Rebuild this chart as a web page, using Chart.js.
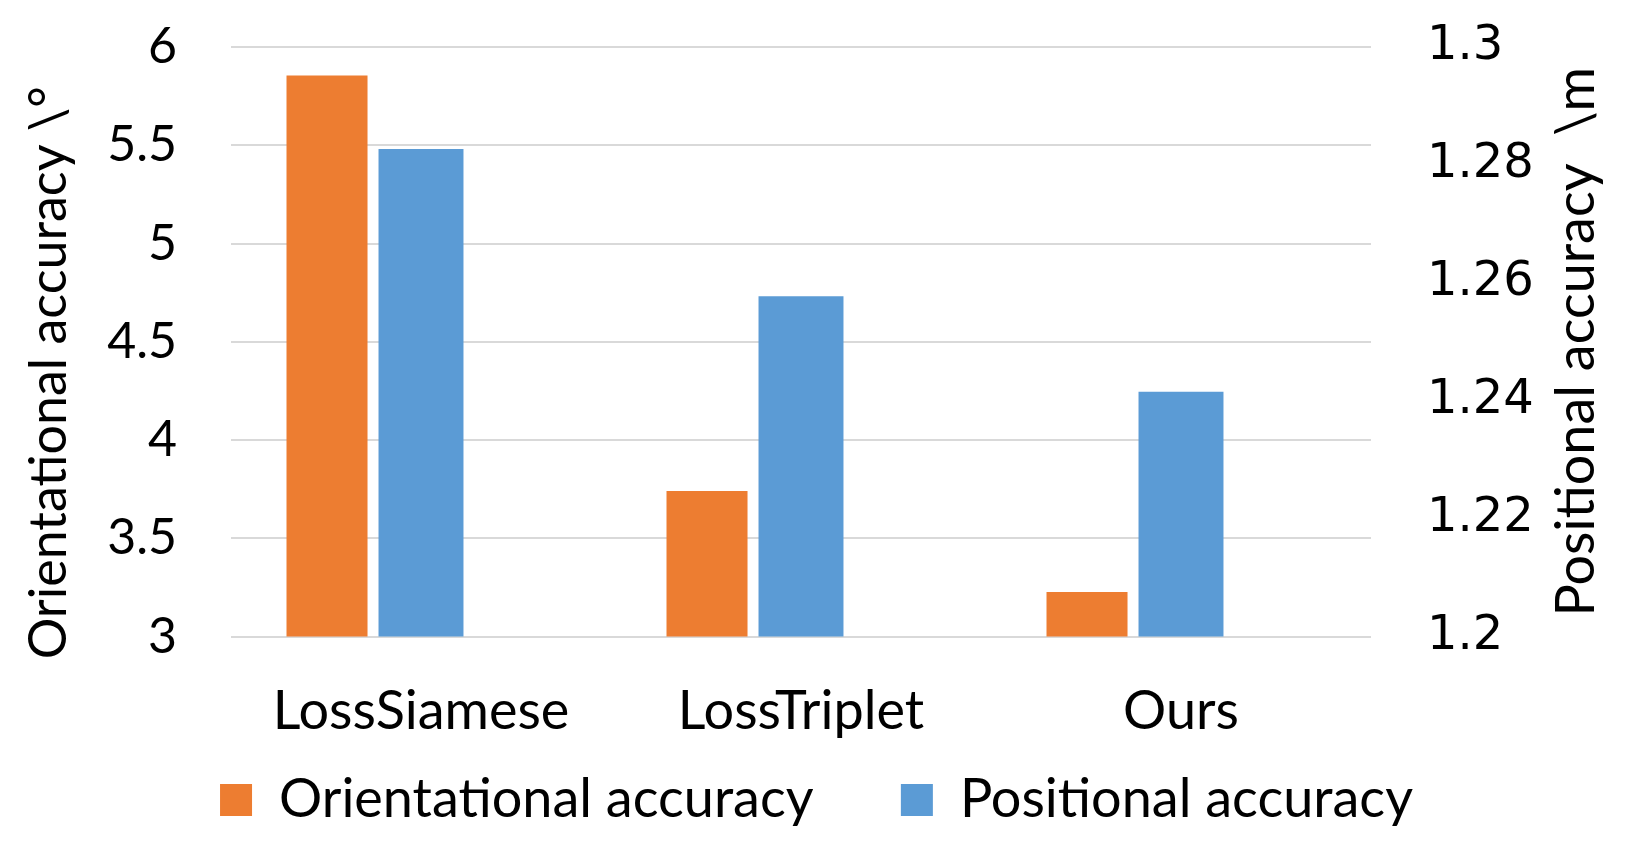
<!DOCTYPE html>
<html>
<head>
<meta charset="utf-8">
<script src="https://cdn.jsdelivr.net/npm/chart.js@4.4.1/dist/chart.umd.min.js"></script>
<style>
  html, body { margin: 0; padding: 0; background: #ffffff; }
  #wrap { width: 1633px; height: 854px; position: relative; }
</style>
</head>
<body>
<div id="wrap"><canvas id="c" width="1633" height="854"></canvas></div>
<script>
const categories = ["LossSiamese", "LossTriplet", "Ours"];
const orientationalAccuracy = [5.855, 3.74, 3.226];
const positionalAccuracy = [1.2827, 1.2577, 1.2415];
const seriesNames = ["Orientational accuracy", "Positional accuracy"];
const leftAxisTitle = "Orientational accuracy \\°";
const rightAxisTitle = "Positional accuracy  \\m";
const leftTicks = [3, 3.5, 4, 4.5, 5, 5.5, 6];
const rightTicks = [1.2, 1.22, 1.24, 1.26, 1.28, 1.3];

const ORANGE = "#ED7D31";
const BLUE = "#5B9BD5";
const GRID = "#D9D9D9";
const FONT = "Lato";

const titlePlugin = {
  id: "rotatedTitles",
  afterDraw(chart) {
    const ctx = chart.ctx;
    const area = chart.chartArea;
    const midY = (area.top + area.bottom) / 2;
    ctx.save();
    ctx.fillStyle = "#000000";
    ctx.textAlign = "center";
    ctx.textBaseline = "middle";
    ctx.save();
    ctx.font = "52px " + FONT;
    ctx.translate(area.left - 182, midY + 31);
    ctx.rotate(-Math.PI / 2);
    ctx.fillText(leftAxisTitle, 0, 0);
    ctx.restore();
    ctx.save();
    ctx.font = "54px " + FONT;
    ctx.translate(area.right + 206, midY);
    ctx.rotate(-Math.PI / 2);
    ctx.fillText(rightAxisTitle, 0, 0);
    ctx.restore();
    ctx.restore();
  }
};

new Chart(document.getElementById("c"), {
  type: "bar",
  data: {
    labels: categories,
    datasets: [
      {
        label: seriesNames[0],
        data: orientationalAccuracy,
        backgroundColor: ORANGE,
        yAxisID: "y",
        barPercentage: 0.862,
        categoryPercentage: 0.742
      },
      {
        label: seriesNames[1],
        data: positionalAccuracy,
        backgroundColor: BLUE,
        yAxisID: "y1",
        barPercentage: 0.904,
        categoryPercentage: 0.742
      },
      {
        label: "",
        data: categories.map(() => null),
        backgroundColor: "rgba(0,0,0,0)",
        yAxisID: "y",
        barPercentage: 0.88,
        categoryPercentage: 0.742
      }
    ]
  },
  options: {
    responsive: false,
    animation: false,
    devicePixelRatio: 1,
    layout: { padding: { left: 0, right: 0, top: 47, bottom: 17 } },
    plugins: {
      tooltip: { enabled: false },
      legend: {
        position: "bottom",
        labels: {
          boxWidth: 32,
          boxHeight: 32,
          padding: 32,
          color: "#000000",
          font: { family: FONT, size: 54 },
          generateLabels: (chart) => {
            const items = Chart.defaults.plugins.legend.labels.generateLabels(chart)
              .filter(item => item.text !== "");
            items.forEach((item, i) => {
              if (i < items.length - 1) item.text = item.text + "    ";
            });
            return items;
          }
        }
      }
    },
    scales: {
      x: {
        grid: { display: false, drawTicks: false },
        border: { display: false },
        ticks: {
          color: "#000000",
          padding: 43,
          font: { family: FONT, size: 54 }
        },
        afterFit: (axis) => { axis.height = 104.5; axis.paddingLeft = 0; axis.paddingRight = 0; }
      },
      y: {
        position: "left",
        min: 3,
        max: 6,
        afterBuildTicks: (axis) => { axis.ticks = leftTicks.map(v => ({ value: v })); },
        afterFit: (axis) => { axis.width = 231; axis.paddingTop = 0; axis.paddingBottom = 0; },
        grid: { color: GRID, lineWidth: 2, drawTicks: false },
        border: { display: false },
        ticks: {
          color: "#000000",
          padding: 54,
          font: { family: FONT, size: 50 },
          callback: (v) => String(v)
        }
      },
      y1: {
        position: "right",
        min: 1.2,
        max: 1.3,
        afterBuildTicks: (axis) => { axis.ticks = rightTicks.map(v => ({ value: v })); },
        afterFit: (axis) => { axis.width = 262; axis.paddingTop = 0; axis.paddingBottom = 0; },
        grid: { display: false, drawTicks: false },
        border: { display: false },
        ticks: {
          color: "#000000",
          padding: 56,
          font: { family: "DejaVu Sans", size: 48 },
          callback: (v) => String(Math.round(v * 100) / 100)
        }
      }
    }
  },
  plugins: [titlePlugin]
});
</script>
</body>
</html>
